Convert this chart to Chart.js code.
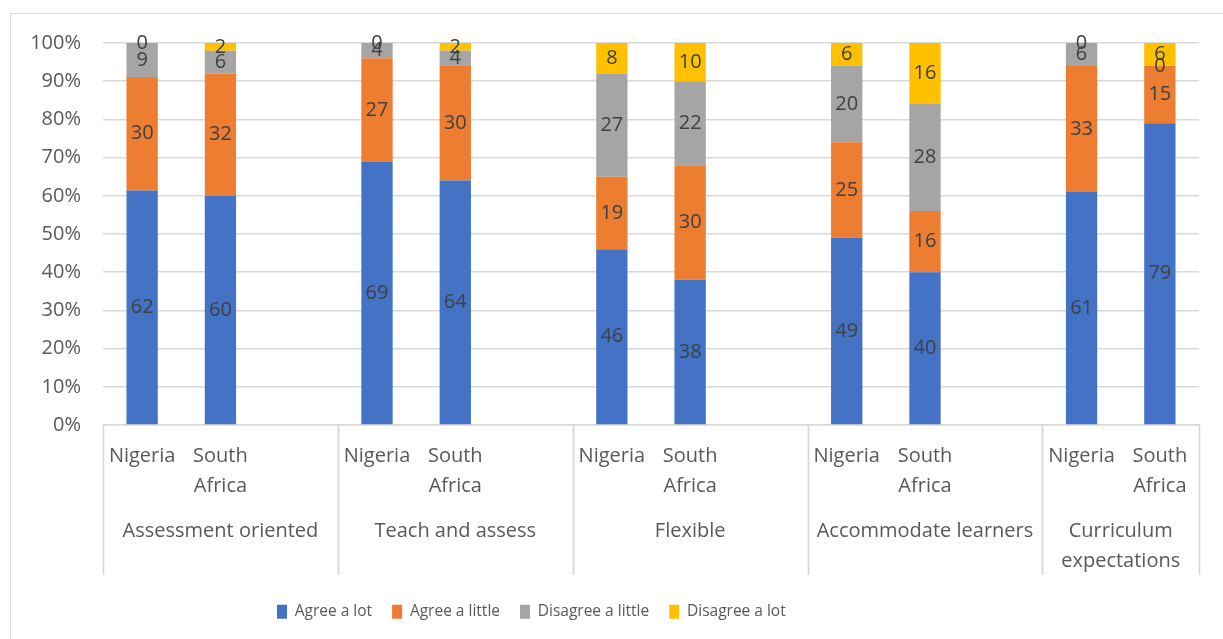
<!DOCTYPE html>
<html>
<head>
<meta charset="utf-8">
<title>Views on assessment</title>
<script src="https://cdn.jsdelivr.net/npm/chart.js@4.4.0/dist/chart.umd.min.js"></script>
<style>
  html, body { margin: 0; padding: 0; background: #fff; overflow: hidden; }
  #frame {
    position: absolute; left: 10px; top: 13px;
    width: 1400px; height: 800px;
    border: 1.5px solid #d9d9d9;
  }
  #wrap { position: absolute; left: 0; top: 0; width: 1223px; height: 639px; }
</style>
</head>
<body>
<div id="frame"></div>
<div id="wrap"><canvas id="chart" width="1223" height="639"></canvas></div>
<script>
// statements and the two countries compared under each
const groups = ['Assessment oriented', 'Teach and assess', 'Flexible', 'Accommodate learners', ['Curriculum', 'expectations']];
const countries = ['Nigeria', ['South', 'Africa']];

// responses, ordered Nigeria, South Africa for each statement
const agreeLot       = [62, 60, 69, 64, 46, 38, 49, 40, 61, 79];
const agreeLittle    = [30, 32, 27, 30, 19, 30, 25, 16, 33, 15];
const disagreeLittle = [9, 6, 4, 4, 27, 22, 20, 28, 6, 0];
const disagreeLot    = [0, 2, 0, 2, 8, 10, 6, 16, 0, 6];

const yTicks = [0, 10, 20, 30, 40, 50, 60, 70, 80, 90, 100];

const TEXT = '#595959';
const LEGEND_LEFT = 277;
Chart.defaults.font.family = '"Open Sans", sans-serif';

// the legend reads better in a narrow face when one is installed
function hasFont(name) {
  const c = document.createElement('canvas').getContext('2d');
  c.font = '20px monospace';
  const base = c.measureText('Agree a little').width;
  c.font = '20px "' + name + '", monospace';
  return c.measureText('Agree a little').width !== base;
}
const legendFont = hasFont('Liberation Sans Narrow')
  ? { family: '"Liberation Sans Narrow", sans-serif', size: 19 }
  : { size: 15.5 };

// one slot per country, plus an empty slot between statements
const labels = [];
const slotRef = [];
groups.forEach((g, gi) => {
  countries.forEach((c, ci) => {
    labels.push(c);
    slotRef.push(gi * countries.length + ci);
  });
  if (gi < groups.length - 1) {
    labels.push('');
    slotRef.push(null);
  }
});

const totals = agreeLot.map((v, i) => v + agreeLittle[i] + disagreeLittle[i] + disagreeLot[i]);

function makeSet(name, values, color) {
  return {
    label: name,
    counts: slotRef.map(r => r === null ? null : values[r]),
    data: slotRef.map(r => r === null ? null : values[r] / totals[r] * 100),
    backgroundColor: color,
    borderWidth: 0,
    categoryPercentage: 1,
    barPercentage: 0.4
  };
}

// count printed in the middle of each segment
const segmentLabels = {
  id: 'segmentLabels',
  afterDatasetsDraw(chart) {
    const ctx = chart.ctx;
    ctx.save();
    ctx.font = '20px "Open Sans", sans-serif';
    ctx.fillStyle = '#404040';
    ctx.textAlign = 'center';
    ctx.textBaseline = 'middle';
    chart.data.datasets.forEach((ds, di) => {
      chart.getDatasetMeta(di).data.forEach((bar, i) => {
        const v = ds.counts[i];
        if (v === null || v === undefined) return;
        ctx.fillText(String(v), bar.x, (bar.y + bar.base) / 2);
      });
    });
    ctx.restore();
  }
};

// second row of category labels with the dividers between statements
const groupAxis = {
  id: 'groupAxis',
  afterLayout(chart) {
    const lg = chart.legend;
    const start = (lg.left + lg.options.labels.padding + lg.right - lg.lineWidths[0]) / 2;
    const dx = LEGEND_LEFT - start;
    lg.left += dx;
    lg.right += dx;
  },
  afterDraw(chart) {
    const x = chart.scales.x;
    const ctx = chart.ctx;
    const half = (x.getPixelForValue(1) - x.getPixelForValue(0)) / 2;
    const top = x.top;
    const bottom = x.top + 150;
    ctx.save();
    ctx.strokeStyle = '#d9d9d9';
    ctx.lineWidth = 1.5;
    ctx.font = '20px "Open Sans", sans-serif';
    ctx.fillStyle = TEXT;
    ctx.textAlign = 'center';
    ctx.textBaseline = 'middle';
    let idx = 0;
    groups.forEach((g, gi) => {
      const first = idx;
      const last = idx + countries.length - (gi < groups.length - 1 ? 0 : 1);
      const left = x.getPixelForValue(first) - half;
      const right = x.getPixelForValue(last) + half;
      [left, right].forEach(px => {
        ctx.beginPath();
        ctx.moveTo(Math.round(px) + 0.5, top);
        ctx.lineTo(Math.round(px) + 0.5, bottom);
        ctx.stroke();
      });
      const lines = Array.isArray(g) ? g : [g];
      lines.forEach((t, li) => ctx.fillText(t, (left + right) / 2, top + 106 + li * 30));
      idx += countries.length + 1;
    });
    ctx.restore();
  }
};

new Chart(document.getElementById('chart'), {
  type: 'bar',
  data: {
    labels: labels,
    datasets: [
      makeSet('Agree a lot', agreeLot, '#4472c4'),
      makeSet('Agree a little', agreeLittle, '#ed7d31'),
      makeSet('Disagree a little', disagreeLittle, '#a5a5a5'),
      makeSet('Disagree a lot', disagreeLot, '#ffc000')
    ]
  },
  options: {
    responsive: false,
    animation: false,
    layout: { padding: { top: 43, right: 24, bottom: 25 - legendFont.size, left: 0 } },
    plugins: {
      tooltip: { enabled: false },
      legend: {
        position: 'bottom',
        labels: {
          color: TEXT,
          font: legendFont,
          boxWidth: 10,
          boxHeight: 14,
          padding: 20
        }
      }
    },
    scales: {
      x: {
        stacked: true,
        grid: { display: false },
        border: { display: true, color: '#d9d9d9', width: 1.5 },
        ticks: {
          color: TEXT,
          font: { size: 20, lineHeight: 1.5 },
          padding: 8,
          maxRotation: 0,
          autoSkip: false
        },
        afterFit(scale) { scale.height = 159; }
      },
      y: {
        stacked: true,
        min: 0,
        max: 100,
        afterBuildTicks(scale) { scale.ticks = yTicks.map(v => ({ value: v })); },
        grid: { color: '#d9d9d9', lineWidth: 1.5, drawTicks: false },
        border: { display: false },
        ticks: {
          color: TEXT,
          font: { size: 20 },
          padding: 22,
          callback: v => v + '%'
        },
        afterFit(scale) { scale.width = 103; }
      }
    }
  },
  plugins: [segmentLabels, groupAxis]
});
</script>
</body>
</html>
